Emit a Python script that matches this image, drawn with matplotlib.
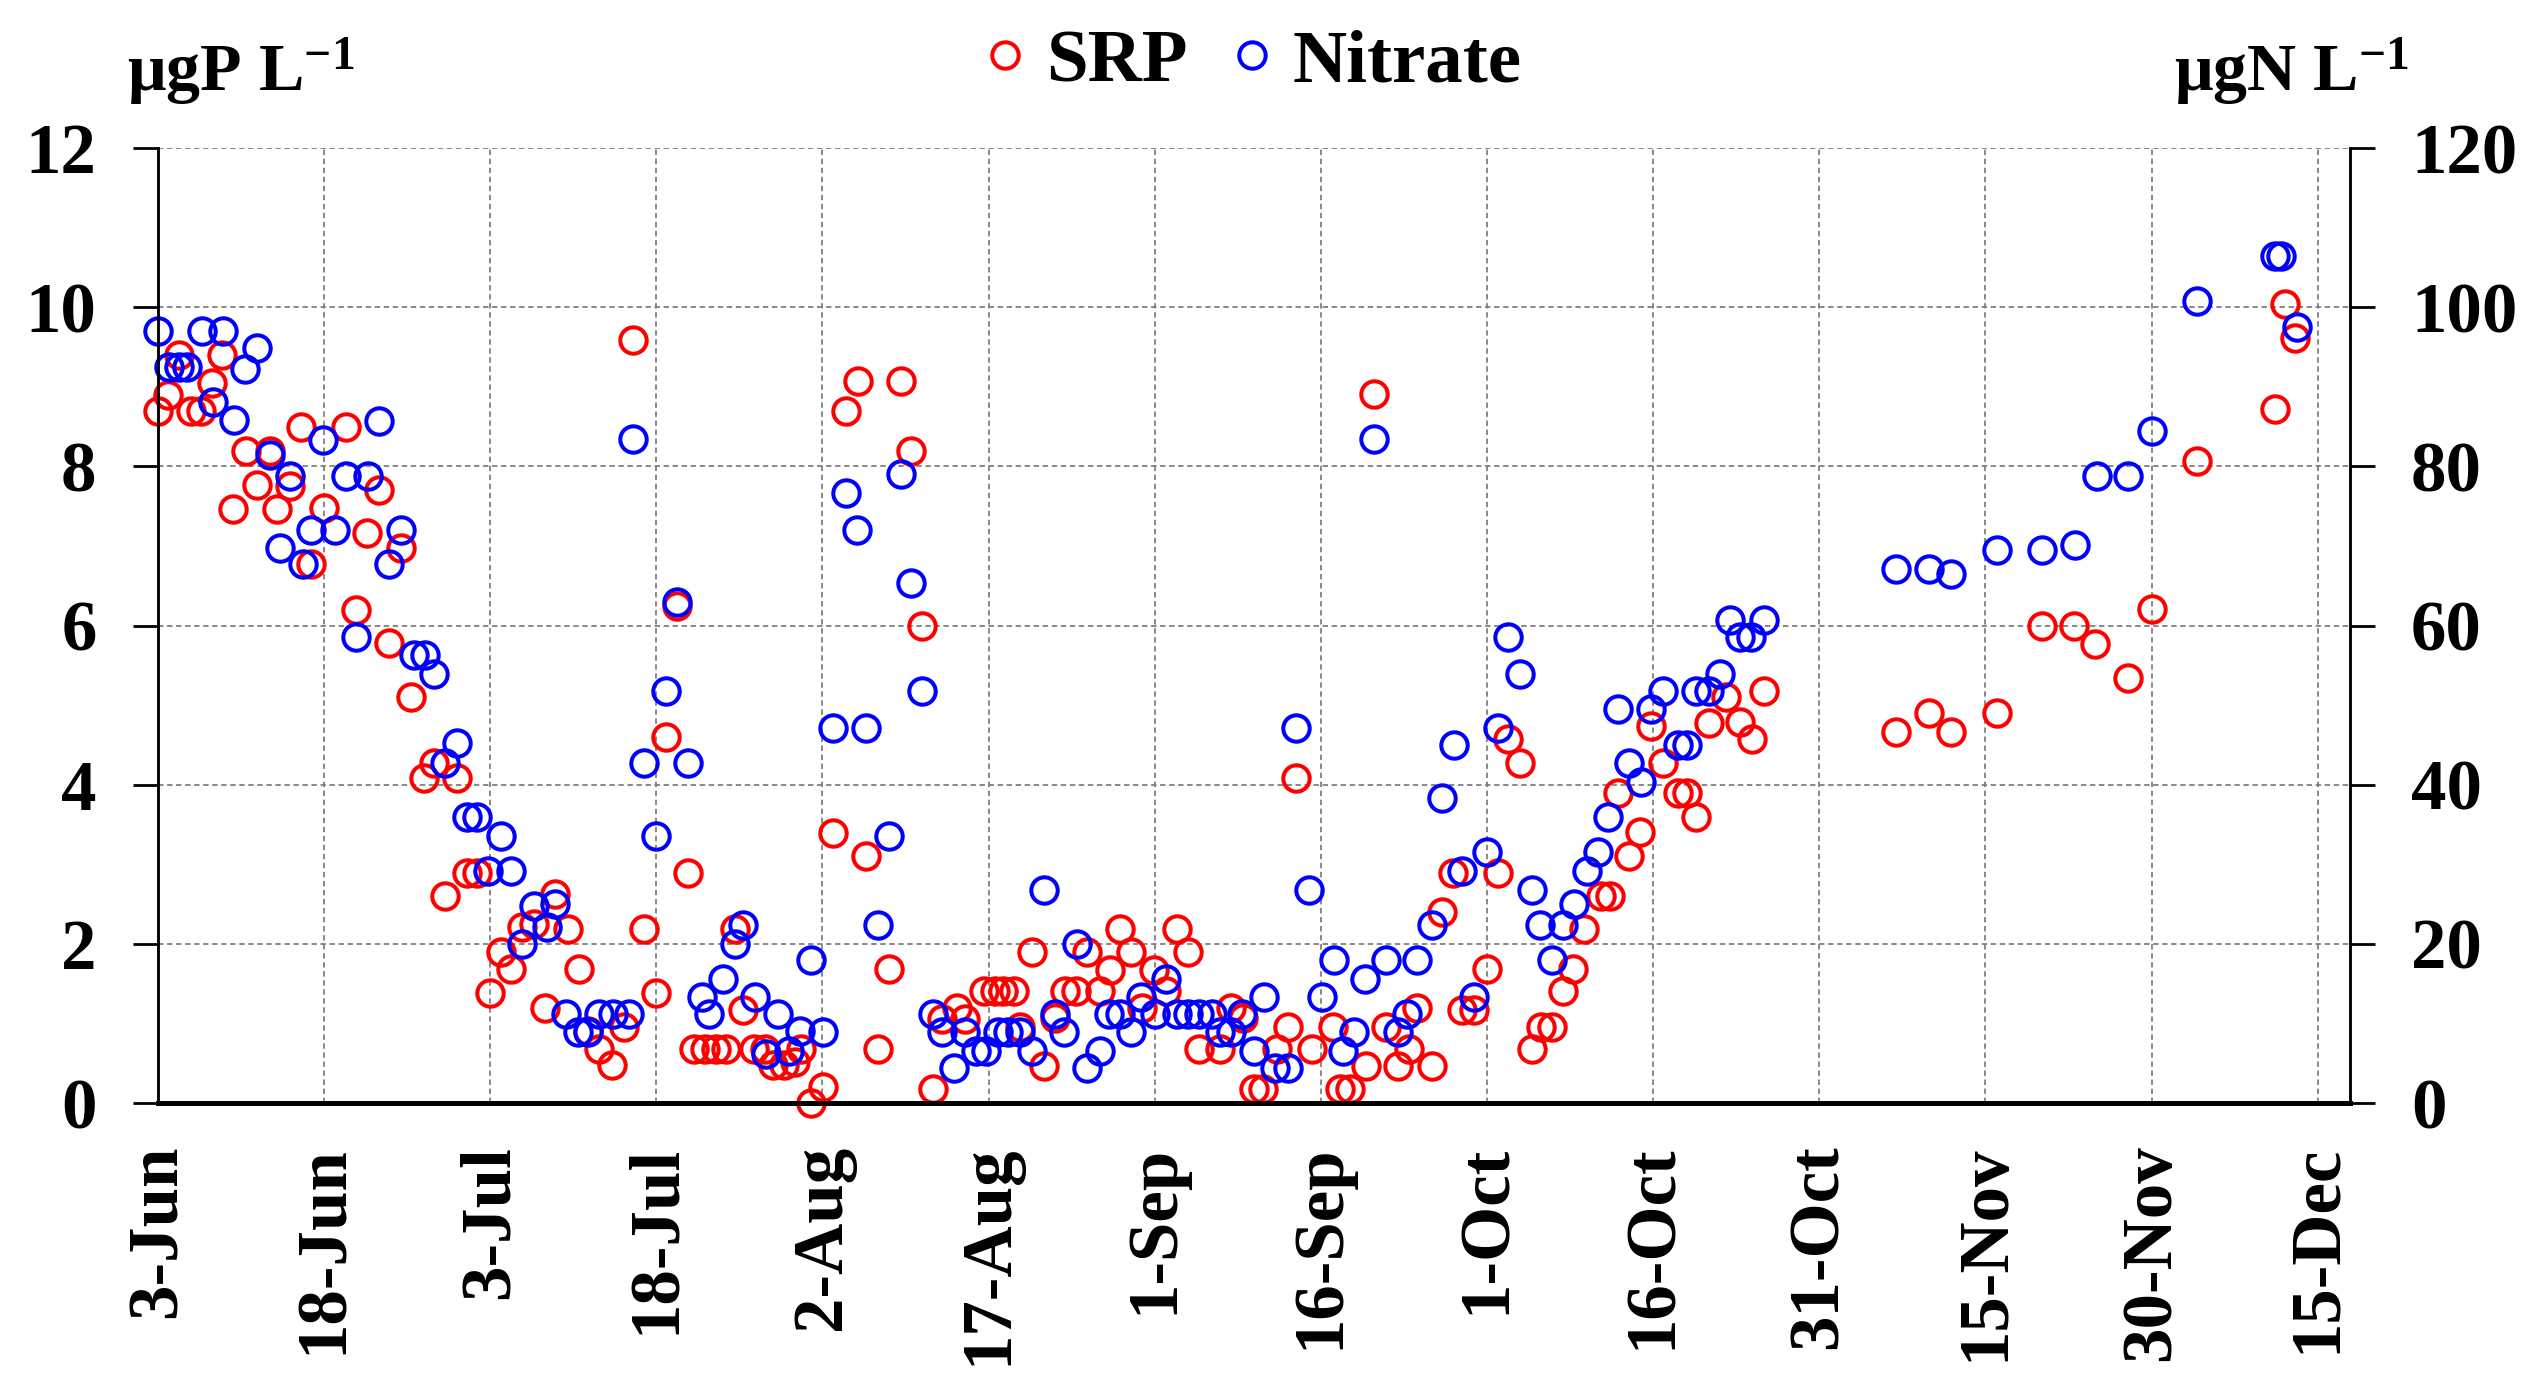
import matplotlib
matplotlib.use('Agg')
import matplotlib.pyplot as plt

plt.rcParams['font.family'] = ['Liberation Serif', 'DejaVu Serif']
plt.rcParams['font.weight'] = 'bold'
plt.rcParams['mathtext.default'] = 'regular'

# days since 3-Jun
srp_day = [0, 0.9, 1.9, 3.0, 3.9, 4.9, 5.8, 6.8, 8.0, 9.0, 10.1, 10.8, 11.9, 12.9, 13.8, 15.0,
           17.0, 17.9, 18.9, 20.0, 20.9, 22.0, 22.9, 24.0, 24.9, 25.9, 27.0, 27.9, 28.8, 30.0,
           31.0, 31.9, 32.9, 34.0, 35.0, 35.9, 37.0, 38.0, 38.8, 39.8, 41.0, 42.1, 42.9, 43.9,
           45.0, 45.9, 46.9, 47.9, 48.4, 49.4, 50.4, 51.3, 52.1, 52.8, 53.8, 54.8, 55.5, 56.5,
           57.5, 58.1, 59.0, 60.1, 61.0, 62.1, 63.2, 63.9, 65.0, 66.0, 67.1, 68.0, 69.0, 70.0,
           70.8, 72.2, 72.9, 74.6, 75.6, 76.3, 77.3, 77.8, 78.9, 80.0, 81.0, 81.9, 82.9, 83.9,
           85.1, 86.0, 86.9, 87.9, 88.9, 89.9, 91.0, 92.0, 93.0, 94.0, 95.9, 96.9, 98.0, 99.0,
           99.8, 101.0, 102.0, 102.8, 104.2, 106.1, 106.7, 107.6, 109.1, 109.8, 110.9, 112.0,
           113.0, 113.7, 115.0, 115.9, 116.9, 117.7, 118.8, 120.0, 121.0, 121.9, 123.0, 124.1,
           124.9, 125.9, 126.9, 127.8, 128.8, 130.3, 131.1, 131.8, 132.8, 133.8, 134.8, 135.9,
           137.2, 138.1, 138.9, 140.0, 141.6, 142.8, 143.9, 145.0, 156.9, 159.9, 161.9, 166.0,
           170.1, 173.0, 174.9, 177.9, 180.0, 184.1, 191.1, 192.0, 192.9]
srp_val = [8.7, 8.9, 9.4, 8.7, 8.7, 9.05, 9.4, 7.47, 8.2, 7.77, 8.2, 7.46, 7.75, 8.5, 6.77, 7.48,
           8.5, 6.2, 7.17, 7.7, 5.78, 6.97, 5.1, 4.09, 4.27, 2.6, 4.09, 2.89, 2.89, 1.38,
           1.9, 1.69, 2.21, 2.25, 1.2, 2.63, 2.19, 1.69, 0.9, 0.68, 0.48, 0.96, 9.59, 2.19,
           1.38, 4.6, 6.25, 2.89, 0.68, 0.68, 0.68, 0.68, 2.19, 1.17, 0.68, 0.68, 0.48, 0.48,
           0.52, 0.68, 0.0, 0.2, 3.39, 8.7, 9.08, 3.1, 0.68, 1.69, 9.08, 8.2, 6.0, 0.18,
           1.05, 1.2, 1.05, 1.41, 1.41, 1.41, 1.41, 0.96, 1.9, 0.47, 1.07, 1.41, 1.41, 1.9,
           1.41, 1.67, 2.19, 1.9, 1.2, 1.67, 1.41, 2.19, 1.9, 0.68, 0.68, 1.2, 1.07, 0.18,
           0.18, 0.68, 0.96, 4.09, 0.68, 0.96, 0.18, 0.18, 0.47, 8.91, 0.96, 0.47,
           0.68, 1.2, 0.47, 2.4, 2.89, 1.17, 1.17, 1.69, 2.89, 4.58, 4.27, 0.68,
           0.96, 0.96, 1.41, 1.69, 2.19, 2.6, 2.6, 3.9, 3.1, 3.41, 4.74, 4.27,
           3.9, 3.9, 3.59, 4.77, 5.1, 4.79, 4.58, 5.18, 4.66, 4.9, 4.66, 4.9,
           6.0, 6.0, 5.77, 5.34, 6.21, 8.07, 8.72, 10.04, 9.61]

no3_day = [0, 1.0, 1.9, 2.6, 4.0, 5.0, 5.9, 6.9, 7.9, 9.0, 10.1, 11.0, 11.9, 13.1, 13.8, 14.9,
           16.0, 17.0, 17.9, 19.0, 20.0, 20.9, 22.0, 23.1, 24.1, 24.9, 25.9, 27.0, 27.9, 28.8,
           29.8, 31.0, 31.9, 32.9, 34.0, 35.1, 35.9, 36.9, 37.9, 38.8, 39.8, 41.1, 42.5, 42.9,
           43.9, 45.0, 45.9, 46.9, 47.9, 49.1, 49.8, 51.0, 52.1, 52.8, 53.9, 54.9, 56.0, 57.0,
           58.0, 59.0, 60.1, 61.0, 62.1, 63.1, 63.9, 65.0, 66.0, 67.1, 68.0, 69.0, 70.0, 70.8,
           71.9, 72.9, 73.9, 74.8, 75.9, 76.8, 77.8, 78.9, 80.0, 81.0, 81.8, 83.0, 83.9, 85.1,
           85.9, 86.9, 87.9, 88.8, 90.0, 91.0, 92.0, 93.0, 94.0, 95.2, 95.9, 96.9, 97.9, 99.0,
           99.9, 100.9, 102.0, 102.8, 103.9, 105.1, 106.2, 107.0, 108.0, 109.0, 109.8, 110.9,
           112.0, 112.8, 113.7, 115.0, 115.9, 117.0, 117.7, 118.8, 120.0, 121.0, 121.9, 123.0,
           124.1, 124.8, 125.9, 126.9, 127.9, 129.0, 130.0, 130.9, 131.8, 132.8, 133.9, 134.8,
           135.9, 137.2, 138.1, 138.9, 140.0, 141.0, 141.9, 142.8, 143.8, 145.0, 156.9, 159.9,
           161.9, 166.0, 170.1, 173.1, 175.1, 177.9, 180.0, 184.1, 191.1, 191.7, 193.1]
no3_val = [97, 92.5, 92.5, 92.5, 97, 88.1, 97, 85.8, 92.2, 94.9, 81.5, 69.7, 78.8, 67.7, 72.0, 83.3,
           72.0, 78.8, 58.6, 78.8, 85.7, 67.8, 72.0, 56.3, 56.3, 53.9, 42.7, 45.2, 35.9, 35.9,
           29.2, 33.6, 29.2, 20.0, 24.7, 22.1, 25.0, 11.2, 8.9, 8.9, 11.2, 11.2, 11.2, 83.4,
           42.7, 33.6, 51.8, 63.0, 42.7, 13.3, 11.2, 15.6, 20.0, 22.4, 13.3, 6.2, 11.2, 6.5,
           9.1, 18.0, 8.9, 47.1, 76.7, 72.0, 47.1, 22.4, 33.6, 79.0, 65.4, 51.8, 11.2, 8.9,
           4.4, 8.9, 6.5, 6.5, 8.9, 8.9, 8.9, 6.5, 26.8, 11.2, 8.9, 20.0, 4.4, 6.5,
           11.2, 11.2, 8.9, 13.3, 11.2, 15.6, 11.2, 11.2, 11.2, 11.2, 8.9, 8.9, 11.2, 6.5,
           13.3, 4.4, 4.4, 47.1, 26.8, 13.3, 18.0, 6.5, 8.9, 15.6, 83.5, 18.0,
           8.9, 11.2, 18.0, 22.4, 38.3, 45.0, 29.2, 13.3, 31.5, 47.1, 58.6, 53.9,
           26.8, 22.4, 18.0, 22.4, 25.0, 29.2, 31.5, 35.9, 49.5, 42.7, 40.4, 49.5,
           51.8, 45.0, 45.0, 51.8, 51.8, 53.9, 60.7, 58.6, 58.6, 60.7, 67.1, 67.1,
           66.5, 69.5, 69.5, 70.1, 78.8, 78.8, 84.5, 100.8, 106.5, 106.5, 97.5]

tick_days = [0, 15, 30, 45, 60, 75, 90, 105, 120, 135, 150, 165, 180, 195]
tick_labels = ['3-Jun', '18-Jun', '3-Jul', '18-Jul', '2-Aug', '17-Aug', '1-Sep', '16-Sep',
               '1-Oct', '16-Oct', '31-Oct', '15-Nov', '30-Nov', '15-Dec']

fig = plt.figure(figsize=(25.44, 13.98), dpi=100)
ax = fig.add_axes([0.062, 0.211, 0.8617, 0.683])
ax2 = ax.twinx()

mk = dict(linestyle='none', marker='o', markersize=19, markerfacecolor='none',
          markeredgewidth=2.9, clip_on=False)
l1, = ax.plot(srp_day, srp_val, markeredgecolor='#ff0000', label='SRP', **mk)
l2, = ax2.plot(no3_day, no3_val, markeredgecolor='#0000ff', label='Nitrate', **mk)

ax.set_xlim(0, 197.9)
ax.set_ylim(0, 12)
ax2.set_ylim(0, 120)
ax.set_yticks(range(0, 13, 2))
ax2.set_yticks(range(0, 121, 20))
ax.set_xticks(tick_days)
ax.set_xticklabels(tick_labels, rotation=90)

grid_kw = dict(color='#7f7f7f', linestyle=(0, (3, 2)), linewidth=1.3)
ax.grid(True, **grid_kw)
ax.set_axisbelow(True)

ax.tick_params(axis='y', labelsize=51, length=18, width=2, pad=26, direction='out')
ax2.tick_params(axis='y', labelsize=51, length=18, width=2, pad=26, direction='out')
ax.tick_params(axis='x', labelsize=51, length=0, pad=30)

for a in (ax, ax2):
    a.spines['top'].set_visible(False)
    a.spines['left'].set_linewidth(1.8)
    a.spines['right'].set_linewidth(1.8)
    a.spines['bottom'].set_linewidth(3.5)

fig.text(0.05, 0.935, r'μgP L$^{-1}$', fontsize=49, fontweight='bold', ha='left', va='baseline')
fig.text(0.947, 0.935, r'μgN L$^{-1}$', fontsize=49, fontweight='bold', ha='right', va='baseline')

fig.legend(handles=[l1, l2], loc='center', bbox_to_anchor=(0.493, 0.955), ncol=2,
           frameon=False, fontsize=54, handlelength=0.5, handletextpad=0.3, columnspacing=0.6)

fig.savefig('out.png', dpi=100)
